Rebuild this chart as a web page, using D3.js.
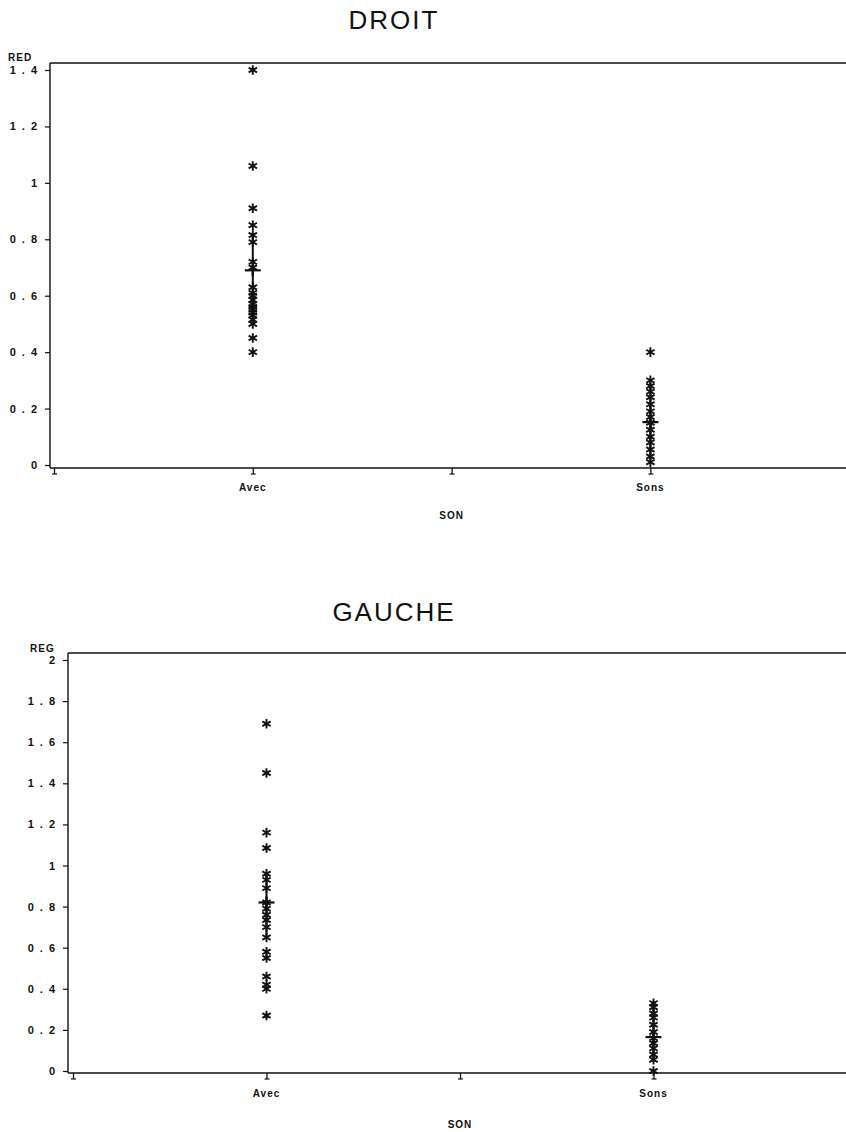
<!DOCTYPE html>
<html>
<head>
<meta charset="utf-8">
<script src="https://cdn.jsdelivr.net/npm/d3@7"></script>
<style>
  html, body { margin: 0; padding: 0; background: #fff; }
  svg { display: block; }
  .title { font-family: "Liberation Sans", Arial, sans-serif; font-size: 26px; fill: #111; letter-spacing: 2px; }
  .tick-y { font-family: "Liberation Sans", Arial, sans-serif; font-weight: bold; font-size: 11px; fill: #111; letter-spacing: 6px; }
  .cat { font-family: "Liberation Sans", Arial, sans-serif; font-weight: bold; font-size: 10px; fill: #111; letter-spacing: 1px; }
  .axlab { font-family: "Liberation Sans", Arial, sans-serif; font-weight: bold; font-size: 10px; fill: #111; letter-spacing: 1px; }
</style>
</head>
<body>
<script>
// Category positions on the SON axis
const categories = ["Avec", "Sons"];
const categoryPos = [1, 3];
const xTicks = [0, 1, 2, 3];

// DROIT panel (RED)
const droitTicks = [0, 0.2, 0.4, 0.6, 0.8, 1, 1.2, 1.4];
const droitAvec = [1.40, 1.06, 0.91, 0.85, 0.815, 0.79, 0.72, 0.70, 0.63, 0.61, 0.60, 0.585, 0.57, 0.56, 0.55, 0.54, 0.53, 0.515, 0.50, 0.45, 0.40];
const droitSons = [0.40, 0.30, 0.28, 0.26, 0.24, 0.215, 0.19, 0.17, 0.15, 0.125, 0.10, 0.08, 0.055, 0.03, 0.01];
// mean, lower, upper for each category
const droitStats = [[0.69, 0.57, 0.82], [0.152, 0.02, 0.29]];

// GAUCHE panel (REG)
const gaucheTicks = [0, 0.2, 0.4, 0.6, 0.8, 1, 1.2, 1.4, 1.6, 1.8, 2];
const gaucheAvec = [1.69, 1.45, 1.16, 1.085, 0.96, 0.93, 0.89, 0.82, 0.79, 0.76, 0.735, 0.70, 0.65, 0.58, 0.55, 0.46, 0.42, 0.40, 0.27];
const gaucheSons = [0.33, 0.31, 0.28, 0.26, 0.225, 0.19, 0.16, 0.135, 0.11, 0.08, 0.055, 0.0];
const gaucheStats = [[0.82, 0.65, 0.96], [0.165, 0.05, 0.33]];

const W = 846, H = 1132;
const svg = d3.select("body").append("svg").attr("width", W).attr("height", H);

const panels = [
  { title: "DROIT", titleX: 394, titleY: 29, yLabel: "RED", yLabelX: 8, yLabelY: 61,
    ticks: droitTicks, yMax: 1.4, series: [droitAvec, droitSons], stats: droitStats,
    left: 50, right: 846, frameTop: 63, frameBottom: 468, y0: 465, yTop: 70,
    x0: 54, xStep: 198.8, catY: 491, sonY: 519 },
  { title: "GAUCHE", titleX: 394, titleY: 621, yLabel: "REG", yLabelX: 30, yLabelY: 652,
    ticks: gaucheTicks, yMax: 2, series: [gaucheAvec, gaucheSons], stats: gaucheStats,
    left: 68, right: 846, frameTop: 653, frameBottom: 1073, y0: 1071, yTop: 660,
    x0: 73, xStep: 193.5, catY: 1097, sonY: 1128 }
];

// Asterisk plotting symbol
function starPath(r) {
  const a = r * 0.87, b = r * 0.5;
  return `M0,${-r}L0,${r}M${-a},${-b}L${a},${b}M${-a},${b}L${a},${-b}`;
}

const fmt = v => String(v);

panels.forEach(p => {
  const g = svg.append("g");
  const x = d3.scaleLinear().domain([0, 4]).range([p.x0, p.x0 + 4 * p.xStep]);
  const y = d3.scaleLinear().domain([0, p.yMax]).range([p.y0, p.yTop]);

  // Title
  g.append("text").attr("class", "title").attr("x", p.titleX).attr("y", p.titleY)
    .attr("text-anchor", "middle").text(p.title);

  // Frame
  g.append("line").attr("x1", p.left).attr("x2", p.right).attr("y1", p.frameTop).attr("y2", p.frameTop)
    .attr("stroke", "#111").attr("stroke-width", 1.4);
  g.append("line").attr("x1", p.left).attr("x2", p.right).attr("y1", p.frameBottom).attr("y2", p.frameBottom)
    .attr("stroke", "#111").attr("stroke-width", 1.4);
  g.append("line").attr("x1", p.left).attr("x2", p.left).attr("y1", p.frameTop).attr("y2", p.frameBottom)
    .attr("stroke", "#111").attr("stroke-width", 1.4);

  // Y axis
  const yAxis = g.append("g").attr("transform", `translate(${p.left},0)`)
    .call(d3.axisLeft(y).tickValues(p.ticks).tickSize(5).tickPadding(7).tickFormat(fmt));
  yAxis.select(".domain").remove();
  yAxis.selectAll(".tick line").attr("stroke", "#111").attr("stroke-width", 1.2);
  yAxis.selectAll(".tick text").attr("class", "tick-y").attr("dx", "5px")
    .attr("font-size", null).attr("font-family", null).attr("fill", null);
  yAxis.attr("font-size", null).attr("font-family", null);

  g.append("text").attr("class", "axlab").attr("x", p.yLabelX).attr("y", p.yLabelY).text(p.yLabel);

  // X axis
  const xAxis = g.append("g").attr("transform", `translate(0,${p.frameBottom})`)
    .call(d3.axisBottom(x).tickValues(xTicks).tickSize(6).tickFormat(() => ""));
  xAxis.select(".domain").remove();
  xAxis.selectAll(".tick line").attr("stroke", "#111").attr("stroke-width", 1.3);
  xAxis.selectAll(".tick").append("line").attr("x1", -2.5).attr("x2", 2.5).attr("y1", 6).attr("y2", 6)
    .attr("stroke", "#111").attr("stroke-width", 1.2);

  categories.forEach((c, i) => {
    g.append("text").attr("class", "cat").attr("x", x(categoryPos[i])).attr("y", p.catY)
      .attr("text-anchor", "middle").text(c);
  });
  g.append("text").attr("class", "axlab").attr("x", x(2)).attr("y", p.sonY)
    .attr("text-anchor", "middle").text("SON");

  // Mean and spread bars
  p.stats.forEach((s, i) => {
    const cx = x(categoryPos[i]);
    g.append("line").attr("x1", cx).attr("x2", cx).attr("y1", y(s[1])).attr("y2", y(s[2]))
      .attr("stroke", "#111").attr("stroke-width", 2);
    g.append("line").attr("x1", cx - 8).attr("x2", cx + 8).attr("y1", y(s[0])).attr("y2", y(s[0]))
      .attr("stroke", "#111").attr("stroke-width", 2.2);
    g.append("line").attr("x1", cx).attr("x2", cx).attr("y1", y(s[0]) - 6).attr("y2", y(s[0]) + 6)
      .attr("stroke", "#111").attr("stroke-width", 2.4);
  });

  // Observations
  p.series.forEach((vals, i) => {
    const cx = x(categoryPos[i]);
    g.selectAll(null).data(vals).enter().append("path")
      .attr("d", starPath(4.8))
      .attr("transform", d => `translate(${cx},${y(d)})`)
      .attr("fill", "none").attr("stroke", "#111").attr("stroke-width", 1.9);
  });
});
</script>
</body>
</html>
